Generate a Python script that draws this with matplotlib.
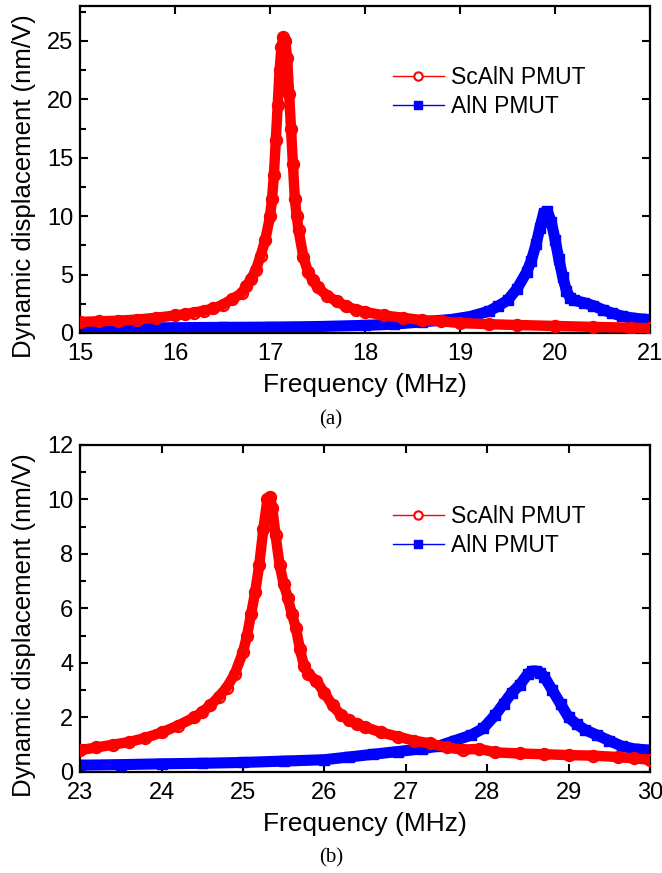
import numpy as np
import matplotlib
matplotlib.use("Agg")
import matplotlib.pyplot as plt
from matplotlib.lines import Line2D
from matplotlib.ticker import MultipleLocator

plt.rcParams['font.family'] = ['Liberation Sans', 'DejaVu Sans']

# (a) first mode, 15-21 MHz
freq_sc_a = [15.0, 15.2, 15.4, 15.6, 15.8, 16.0, 16.1, 16.2, 16.3, 16.4, 16.5, 16.6, 16.7,
             16.75, 16.8, 16.85, 16.9, 16.95, 17.0, 17.02, 17.04, 17.06, 17.08, 17.1, 17.12,
             17.14, 17.16, 17.18, 17.2, 17.22, 17.24, 17.26, 17.28, 17.3, 17.35, 17.4, 17.45,
             17.5, 17.6, 17.7, 17.8, 17.9, 18.0, 18.2, 18.4, 18.6, 18.8, 19.0, 19.3, 19.6,
             20.0, 20.4, 20.8, 21.0]
disp_sc_a = [0.95, 1.0, 1.05, 1.15, 1.3, 1.5, 1.6, 1.75, 1.9, 2.1, 2.4, 2.9, 3.4,
             4.0, 4.6, 5.4, 6.6, 8.0, 10.0, 11.5, 13.5, 16.5, 19.5, 22.5, 24.5,
             25.3, 25.0, 23.5, 20.5, 17.5, 14.5, 11.5, 10.0, 8.8, 6.5, 5.2, 4.5,
             3.9, 3.2, 2.7, 2.3, 2.0, 1.8, 1.5, 1.3, 1.1, 1.0, 0.85, 0.75, 0.68,
             0.6, 0.52, 0.45, 0.4]

freq_aln_a = [15.0, 15.5, 16.0, 16.5, 17.0, 17.5, 18.0, 18.3, 18.6, 18.9, 19.1, 19.3, 19.4,
              19.5, 19.6, 19.7, 19.75, 19.8, 19.84, 19.88, 19.92, 19.96, 20.0, 20.04, 20.08,
              20.12, 20.16, 20.2, 20.3, 20.4, 20.5, 20.6, 20.7, 20.8, 20.9, 21.0]
disp_aln_a = [0.4, 0.42, 0.45, 0.48, 0.5, 0.55, 0.65, 0.75, 0.95, 1.15, 1.4, 1.85, 2.3,
              2.8, 3.8, 5.2, 6.2, 7.6, 9.0, 10.3, 10.4, 9.5, 8.0, 6.3, 4.8,
              3.6, 3.0, 2.8, 2.6, 2.35, 2.0, 1.7, 1.45, 1.3, 1.2, 1.15]

# (b) second mode, 23-30 MHz
freq_sc_b = [23.0, 23.2, 23.4, 23.6, 23.8, 24.0, 24.2, 24.4, 24.5, 24.6, 24.7, 24.8, 24.9,
             25.0, 25.05, 25.1, 25.15, 25.2, 25.25, 25.3, 25.33, 25.36, 25.4, 25.45, 25.5,
             25.55, 25.6, 25.65, 25.7, 25.75, 25.8, 25.9, 26.0, 26.1, 26.2, 26.3, 26.4,
             26.5, 26.7, 26.9, 27.1, 27.3, 27.5, 27.7, 27.9, 28.1, 28.4, 28.7, 29.0,
             29.3, 29.6, 29.8, 30.0]
disp_sc_b = [0.8, 0.9, 1.0, 1.1, 1.25, 1.45, 1.7, 2.0, 2.2, 2.45, 2.75, 3.1, 3.6,
             4.4, 5.0, 5.8, 6.6, 7.6, 8.9, 10.0, 10.1, 9.7, 8.7, 7.6, 6.9,
             6.4, 5.8, 5.3, 4.5, 3.9, 3.6, 3.35, 2.9, 2.45, 2.1, 1.9, 1.75,
             1.65, 1.45, 1.3, 1.15, 1.05, 0.9, 0.82, 0.85, 0.72, 0.68, 0.65, 0.62,
             0.6, 0.55, 0.5, 0.45]

freq_aln_b = [23.0, 23.5, 24.0, 24.5, 25.0, 25.5, 26.0, 26.3, 26.6, 26.9, 27.2, 27.4, 27.6,
              27.8, 27.95, 28.1, 28.2, 28.3, 28.4, 28.5, 28.55, 28.6, 28.65, 28.7, 28.8,
              28.9, 29.0, 29.1, 29.2, 29.35, 29.5, 29.65, 29.8, 30.0]
disp_aln_b = [0.25, 0.27, 0.3, 0.32, 0.35, 0.4, 0.45, 0.55, 0.65, 0.75, 0.85, 0.95, 1.15,
              1.35, 1.6, 2.1, 2.5, 2.9, 3.2, 3.6, 3.7, 3.7, 3.65, 3.5, 3.0,
              2.5, 2.0, 1.75, 1.55, 1.35, 1.15, 0.95, 0.85, 0.8]

labels = ['ScAlN PMUT', 'AlN PMUT']
red = '#ff0000'
blue = '#0000ff'

fig = plt.figure(figsize=(6.62, 8.73), dpi=100)
ax_a = fig.add_axes([0.121, 0.6186, 0.861, 0.3746])
ax_b = fig.add_axes([0.121, 0.1157, 0.861, 0.3746])


def draw(ax, fs, ds, fa, da, xlim, ylim, ymaj, ymin):
    # thick band under the symbols, like the dense measured points
    ax.plot(fa, da, color=blue, lw=8, solid_capstyle='round', solid_joinstyle='round', zorder=2)
    ax.plot(fa, da, ls='none', marker='s', ms=7, color=blue, zorder=2)
    ax.plot(fs, ds, color=red, lw=7.5, solid_capstyle='round', solid_joinstyle='round', zorder=3)
    ax.plot(fs, ds, ls='none', marker='o', ms=8, mfc='none', mec=red, mew=1.6, zorder=3)
    ax.set_xlim(*xlim)
    ax.set_ylim(*ylim)
    ax.xaxis.set_major_locator(MultipleLocator(1))
    ax.yaxis.set_major_locator(MultipleLocator(ymaj))
    ax.yaxis.set_minor_locator(MultipleLocator(ymin))
    ax.tick_params(which='major', direction='in', length=6, width=1.5,
                   top=True, right=True, labelsize=17, pad=5)
    ax.tick_params(axis='x', pad=7)
    ax.tick_params(which='minor', direction='in', length=4, width=1.5,
                   left=True, right=False, top=False, bottom=False)
    for s in ax.spines.values():
        s.set_linewidth(1.6)
    ax.set_xlabel('Frequency (MHz)', fontsize=19, labelpad=6)
    ax.set_ylabel('Dynamic displacement (nm/V)', fontsize=18.5)
    ax.yaxis.set_label_coords(-0.078, 0.45)
    handles = [Line2D([], [], color=red, lw=1, marker='o', ms=6, mfc='white', mec=red, mew=1.5),
               Line2D([], [], color=blue, lw=1, marker='s', ms=6)]
    ax.legend(handles, labels, loc='upper right', bbox_to_anchor=(0.922, 0.88),
              frameon=False, fontsize=16.5, handlelength=2.2, handletextpad=0.3,
              labelspacing=0.25)


draw(ax_a, freq_sc_a, disp_sc_a, freq_aln_a, disp_aln_a, (15, 21), (0, 28), 5, 2.5)
draw(ax_b, freq_sc_b, disp_sc_b, freq_aln_b, disp_aln_b, (23, 30), (0, 12), 2, 1)

fig.text(0.5, 1 - 420 / 873, '(a)', ha='center', va='center',
         fontsize=15, family='Liberation Serif')
fig.text(0.5, 1 - 858 / 873, '(b)', ha='center', va='center',
         fontsize=15, family='Liberation Serif')

fig.savefig('out.png', dpi=100)
